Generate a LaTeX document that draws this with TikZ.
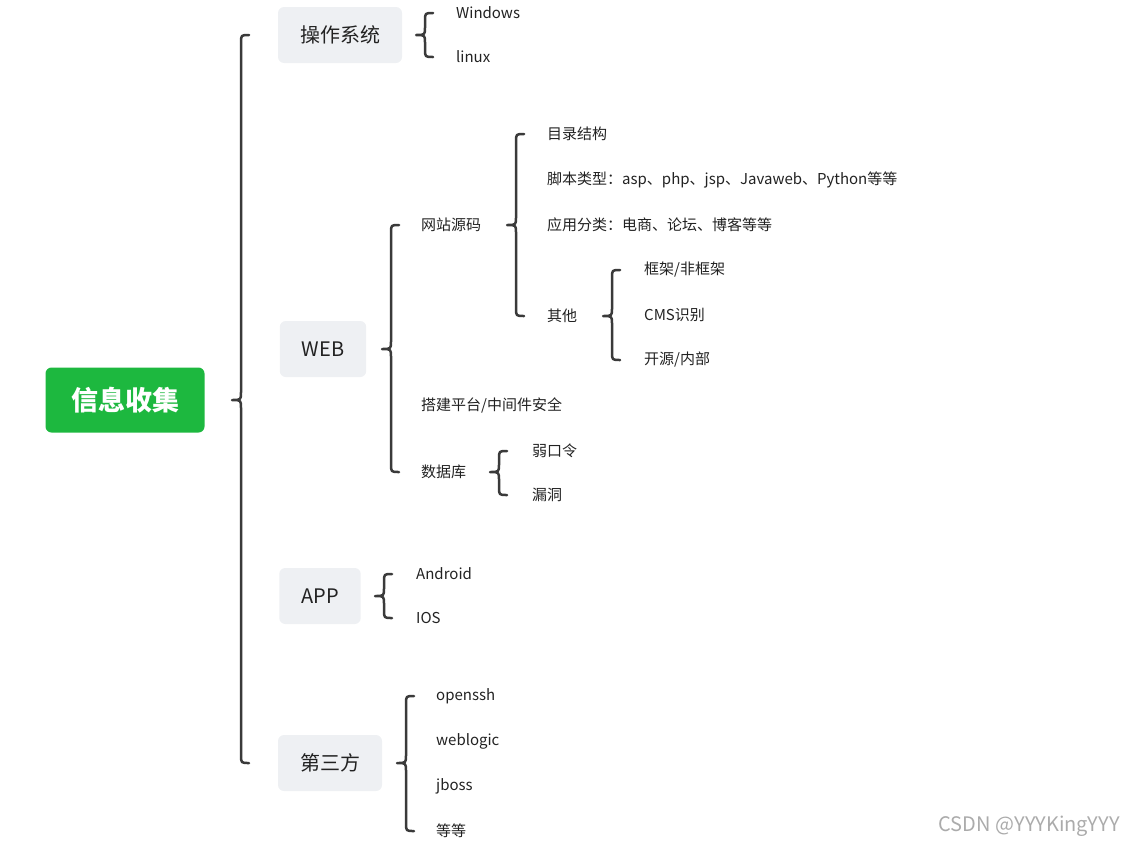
\documentclass[tikz,border=0pt]{standalone}
\usepackage{fontspec}
\setmainfont{Noto Sans CJK SC}
\usepackage{xcolor}
\usepackage{tikz}
\usetikzlibrary{positioning,calc}
\definecolor{green600}{HTML}{1DB83F}
\definecolor{gray100}{HTML}{EEF0F3}
\definecolor{gray700}{HTML}{3A3A3A}
\definecolor{gray900}{HTML}{222222}
\definecolor{gray400}{HTML}{ABABAB}
\tikzset{
  every node/.style={text=gray900},
  rootbox/.style={
    rectangle, rounded corners=6pt,
    fill=green600, text=white,
    minimum width=159pt, minimum height=65pt,
    font=\fontsize{27}{30}\selectfont\bfseries
  },
  topic/.style={
    rectangle, rounded corners=6pt,
    fill=gray100, inner xsep=22pt,
    minimum height=56pt,
    font=\fontsize{20}{23}\selectfont
  },
  leaf/.style={
    anchor=west, inner sep=0pt,
    font=\fontsize{15}{17}\selectfont
  },
  brace/.style={
    draw=gray700, line width=2.5pt, line cap=round, line join=round
  },
}
% curly brace: tip coordinate, first child, last child
\newcommand{\grp}[3]{%
  \draw[brace] let \p1=(#1), \p2=(#2.west), \p3=(#3.west) in
    (\x1+17pt,\y2) .. controls (\x1+9pt,\y2) .. (\x1+9pt,\y2-8pt)
    -- (\x1+9pt,\y1+8pt) .. controls (\x1+9pt,\y1) .. (\x1,\y1)
    .. controls (\x1+9pt,\y1) .. (\x1+9pt,\y1-8pt)
    -- (\x1+9pt,\y3+8pt) .. controls (\x1+9pt,\y3) .. (\x1+17pt,\y3);
}

\begin{document}
\begin{tikzpicture}[x=1pt,y=-1pt]
  \useasboundingbox (0,0) rectangle (1124,846);
  % root
  \node[rootbox] (info) at (125,400) {信息收集};
  % first level
  \node[topic] (os) at (340,35) {操作系统};
  \node[topic] (web) at (323,349) {WEB};
  \node[topic] (app) at (320,596) {APP};
  \node[topic] (third) at (330,763) {第三方};
  % operating system
  \node[leaf] (win) at (456,13) {Windows};
  \node[leaf] (linux) at (456,57) {linux};
  % web
  \node[leaf] (src) at (421,225) {网站源码};
  \node[leaf] (plat) at (421,405) {搭建平台/中间件安全};
  \node[leaf] (db) at (421,472) {数据库};
  \node[leaf] (dir) at (547,134) {目录结构};
  \node[leaf] (script) at (547,180) {脚本类型：asp、php、jsp、Javaweb、Python等等};
  \node[leaf] (apptype) at (547,225) {应用分类：电商、论坛、博客等等};
  \node[leaf] (other) at (547,316) {其他};
  \node[leaf] (frame) at (644,270) {框架/非框架};
  \node[leaf] (cms) at (644,315) {CMS识别};
  \node[leaf] (open) at (644,360) {开源/内部};
  \node[leaf] (weak) at (532,451) {弱口令};
  \node[leaf] (vuln) at (532,495) {漏洞};
  % app
  \node[leaf] (android) at (416,574) {Android};
  \node[leaf] (ios) at (416,618) {IOS};
  % third party
  \node[leaf] (ssh) at (436,696) {openssh};
  \node[leaf] (wl) at (436,741) {weblogic};
  \node[leaf] (jboss) at (436,786) {jboss};
  \node[leaf] (etc) at (436,831) {等等};
  % brace tips
  \coordinate (infob) at (232,400);
  \coordinate (osb) at (416,35);
  \coordinate (webb) at (382,349);
  \coordinate (srcb) at (507,225);
  \coordinate (otherb) at (603,316);
  \coordinate (dbb) at (490,472);
  \coordinate (appb) at (375,596);
  \coordinate (thirdb) at (397,763);
  \grp{infob}{os}{third}
  \grp{osb}{win}{linux}
  \grp{webb}{src}{db}
  \grp{srcb}{dir}{other}
  \grp{otherb}{frame}{open}
  \grp{dbb}{weak}{vuln}
  \grp{appb}{android}{ios}
  \grp{thirdb}{ssh}{etc}
  % watermark
  \node[anchor=east, inner sep=0pt, text=gray400, font=\fontsize{20}{22}\selectfont] (mark) at (1120,826) {CSDN @YYYKingYYY};
\end{tikzpicture}
\end{document}
